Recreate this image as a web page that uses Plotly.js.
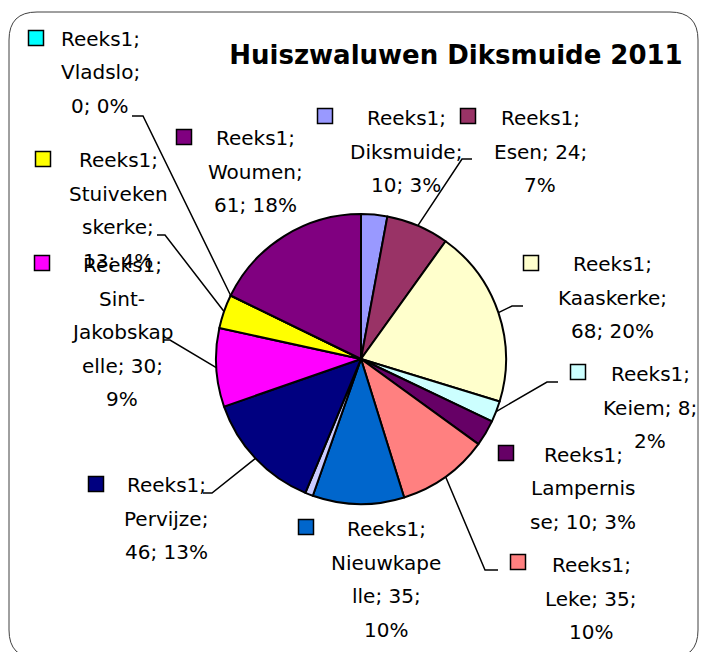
<!DOCTYPE html>
<html>
<head>
<meta charset="utf-8">
<script src="https://cdn.plot.ly/plotly-3.0.1.min.js"></script>
<style>html, body { margin: 0; padding: 0; background: #fff; }</style>
</head>
<body>
<div id="chart" style="width:701px;height:652px"></div>
<script>
// Huiszwaluwen (house martins) per deelgemeente, Diksmuide 2011
const seriesName = 'Reeks1';
const places = ['Diksmuide', 'Esen', 'Kaaskerke', 'Keiem', 'Lampernisse', 'Leke', 'Nieuwkapelle',
  'Oostkerke', 'Pervijze', 'Sint-Jakobskapelle', 'Stuivekenskerke', 'Vladslo', 'Woumen'];
const counts = [10, 24, 68, 8, 10, 35, 35, 3, 46, 30, 13, 0, 61];
const sliceColors = ['#9999FF', '#993366', '#FFFFCC', '#CCFFFF', '#660066', '#FF8080', '#0066CC',
  '#CCCCFF', '#000080', '#FF00FF', '#FFFF00', '#00FFFF', '#800080'];
// where Excel cut the long names inside the label box
const wrappedNames = ['Diksmuide', 'Esen', 'Kaaskerke', 'Keiem', 'Lampernis|se', 'Leke', 'Nieuwkape|lle',
  'Oostkerke', 'Pervijze', 'Sint-|Jakobskap|elle', 'Stuiveken|skerke', 'Vladslo', 'Woumen'];

// figure layout in pixels
const W = 701, H = 652;
const pieCx = 361, pieCy = 359, pieR = 145;
const lineGap = 33.5;
// label boxes: key square centre, text centre of first line, leader elbow + end (null = no leader)
const labelPos = [
  {key: [325, 116], text: [406, 118], leader: null},
  {key: [468, 116], text: [540, 118], leader: [462, 159, 472, 159]},
  {key: [531, 263], text: [612, 264], leader: [512, 306, 523, 306]},
  {key: [578, 372], text: [650, 374], leader: [547, 382, 558, 382]},
  {key: [506, 453], text: [583, 455], leader: null},
  {key: [518, 562], text: [591, 565], leader: [485, 570, 498, 570]},
  {key: [306, 527], text: [386, 529], leader: null},
  null,
  {key: [96, 484], text: [166, 485], leader: [212, 493, 203, 493]},
  {key: [42, 263], text: [122, 265], leader: [170, 340, 163, 340]},
  {key: [43, 159], text: [118, 160], leader: [165, 235, 157, 235]},
  {key: [36, 38], text: [100, 39], leader: [143, 116, 132, 116]},
  {key: [184, 137], text: [255, 138], leader: null}
];

const px = x => x / W;
const py = y => 1 - y / H;

const total = counts.reduce((a, b) => a + b, 0);

function labelLines(i) {
  const pct = Math.round(counts[i] / total * 100);
  const parts = wrappedNames[i].split('|');
  const lines = [seriesName + ';'].concat(parts.slice(0, -1));
  let cur = parts[parts.length - 1] + ';';
  [counts[i] + ';', pct + '%'].forEach(tok => {
    if ((cur + ' ' + tok).length <= 10) cur += ' ' + tok;
    else { lines.push(cur); cur = tok; }
  });
  lines.push(cur);
  return lines;
}

const annotations = [];
const shapes = [];

// rounded chart border (bottom edge runs just past the picture)
const bx0 = 9, by0 = 12, bx1 = 698, by1 = 658, rad = 28;
const P = (x, y) => px(x) + ',' + py(y);
shapes.push({
  type: 'path', xref: 'paper', yref: 'paper',
  path: 'M' + P(bx0 + rad, by0) + ' L' + P(bx1 - rad, by0) + ' Q' + P(bx1, by0) + ' ' + P(bx1, by0 + rad) +
    ' L' + P(bx1, by1 - rad) + ' Q' + P(bx1, by1) + ' ' + P(bx1 - rad, by1) +
    ' L' + P(bx0 + rad, by1) + ' Q' + P(bx0, by1) + ' ' + P(bx0, by1 - rad) +
    ' L' + P(bx0, by0 + rad) + ' Q' + P(bx0, by0) + ' ' + P(bx0 + rad, by0) + ' Z',
  line: {color: '#404040', width: 1}
});

let cum = 0;
counts.forEach((v, i) => {
  const mid = (cum + v / 2) / total * 2 * Math.PI;
  cum += v;
  const pos = labelPos[i];
  if (!pos) return;

  labelLines(i).forEach((txt, k) => {
    annotations.push({
      xref: 'paper', yref: 'paper',
      x: px(pos.text[0]), y: py(pos.text[1] + k * lineGap),
      xanchor: 'center', yanchor: 'middle',
      text: txt, showarrow: false,
      font: {family: 'DejaVu Sans', size: 20, color: '#000'}
    });
  });

  const s = 7.5;
  shapes.push({
    type: 'rect', xref: 'paper', yref: 'paper',
    x0: px(pos.key[0] - s), x1: px(pos.key[0] + s),
    y0: py(pos.key[1] + s), y1: py(pos.key[1] - s),
    fillcolor: sliceColors[i], line: {color: '#000', width: 1.5}
  });

  if (pos.leader) {
    const ex = pieCx + pieR * Math.sin(mid);
    const ey = pieCy - pieR * Math.cos(mid);
    const l = pos.leader;
    shapes.push({
      type: 'path', xref: 'paper', yref: 'paper',
      path: 'M' + P(ex, ey) + ' L' + P(l[0], l[1]) + ' L' + P(l[2], l[3]),
      line: {color: '#000', width: 1.5}
    });
  }
});

const trace = {
  type: 'pie',
  labels: places,
  values: counts,
  sort: false,
  direction: 'clockwise',
  rotation: 0,
  textinfo: 'none',
  hoverinfo: 'label+value+percent',
  marker: {colors: sliceColors, line: {color: '#000', width: 2}},
  domain: {
    x: [px(pieCx - pieR), px(pieCx + pieR)],
    y: [py(pieCy + pieR), py(pieCy - pieR)]
  }
};

const layout = {
  width: W,
  height: H,
  margin: {l: 0, r: 0, t: 0, b: 0},
  showlegend: false,
  paper_bgcolor: '#FFFFFF',
  title: {
    text: '<b>Huiszwaluwen Diksmuide 2011</b>',
    x: px(456), y: py(55), xanchor: 'center', yanchor: 'middle',
    xref: 'paper', yref: 'container',
    font: {family: 'DejaVu Sans', size: 26, color: '#000'}
  },
  annotations: annotations,
  shapes: shapes
};

Plotly.newPlot('chart', [trace], layout, {displayModeBar: false, staticPlot: true});
</script>
</body>
</html>
